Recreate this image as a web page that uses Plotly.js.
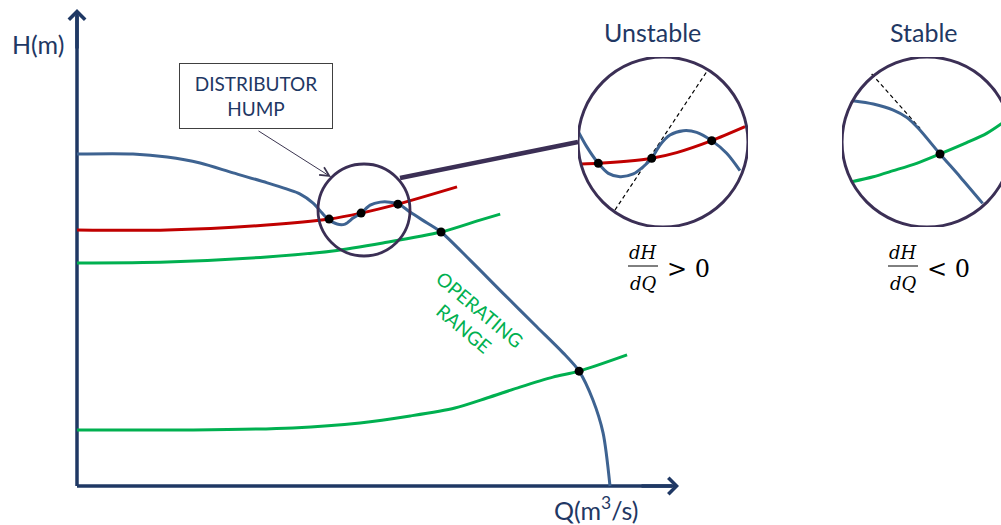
<!DOCTYPE html>
<html>
<head>
<meta charset="utf-8">
<script src="https://cdn.plot.ly/plotly-3.0.1.min.js"></script>
<style>
  html, body { margin: 0; padding: 0; background: #fff; }
  #chart { width: 1001px; height: 525px; }
</style>
</head>
<body>
<div id="chart"></div>
<script>
// main diagram, Q and H in arbitrary units (pump shut-off head = 10, runaway flow = 10)
const pumpQ = [0, 1.05, 1.69, 2.31, 2.93, 3.57, 4.18, 4.43, 4.60, 4.71, 4.88, 5.03, 5.18, 5.33, 5.50, 5.69, 5.87, 6.04, 6.25, 6.57, 6.83, 7.37, 7.99, 8.63, 9.12, 9.42, 9.68, 9.87, 10.0];
const pumpH = [10.0, 10.0, 9.91, 9.73, 9.43, 9.13, 8.80, 8.52, 8.22, 8.04, 7.89, 7.89, 8.07, 8.22, 8.46, 8.55, 8.55, 8.49, 8.25, 7.92, 7.65, 6.81, 5.81, 4.79, 4.01, 3.46, 2.59, 1.60, 0];
const systemQ = [0, 1.69, 3.56, 4.73, 5.33, 6.02, 7.13];
const systemH = [7.71, 7.71, 7.86, 8.04, 8.22, 8.49, 9.01];
const upperQ = [0, 1.69, 3.56, 4.80, 5.74, 6.83, 7.56, 7.94];
const upperH = [6.72, 6.75, 6.90, 7.08, 7.32, 7.65, 8.01, 8.19];
const lowerQ = [0, 2.18, 4.05, 5.31, 6.25, 7.09, 7.69, 8.31, 8.93, 9.42, 10.32];
const lowerH = [1.69, 1.69, 1.75, 1.90, 2.11, 2.35, 2.65, 2.98, 3.28, 3.46, 3.95];
const pointQ = [4.73, 5.33, 6.02, 6.83, 9.42];
const pointH = [8.04, 8.22, 8.49, 7.65, 3.46];

// "Unstable" close-up, local coordinates (circle radius = 1)
const unPumpX = [-0.996, -0.898, -0.761, -0.643, -0.506, -0.349, -0.231, -0.133, -0.035, 0.082, 0.239, 0.396, 0.573, 0.749, 0.906];
const unPumpY = [0.121, -0.055, -0.251, -0.369, -0.408, -0.376, -0.290, -0.192, -0.035, 0.082, 0.133, 0.114, 0.016, -0.133, -0.337];
const unSysX = [-0.957, -0.761, -0.427, -0.133, 0.161, 0.573, 0.965];
const unSysY = [-0.259, -0.251, -0.227, -0.192, -0.125, 0.016, 0.180];
const unTanX = [-0.565, 0.514];
const unTanY = [-0.800, 0.827];
const unPtX = [-0.761, -0.133, 0.573];
const unPtY = [-0.251, -0.192, 0.016];

// "Stable" close-up
const stPumpX = [-0.874, -0.631, -0.396, -0.239, -0.102, 0.153, 0.388, 0.655];
const stPumpY = [0.486, 0.447, 0.376, 0.290, 0.161, -0.141, -0.408, -0.722];
const stSysX = [-0.886, -0.631, -0.396, -0.122, 0.153, 0.467, 0.702, 0.871, 0.960];
const stSysY = [-0.467, -0.408, -0.337, -0.251, -0.141, -0.008, 0.102, 0.212, 0.280];
const stTanX = [-0.651, -0.082];
const stTanY = [0.800, 0.161];
const stPtX = [0.153];
const stPtY = [-0.141];

const W = 1001, Hgt = 525;
const navy = '#1F3864', steel = '#3E6391', red = '#C00000', green = '#00B050', ring = '#3B2F55';
const fx = p => p / W;          // page pixel -> paper
const fy = p => 1 - p / Hgt;
const q = p => (p - 77) / 53.3;  // page pixel -> Q
const h = p => (486 - p) / 33.2; // page pixel -> H

const line = (x, y, color, xa, ya) => ({
  x: x, y: y, xaxis: xa, yaxis: ya, type: 'scatter', mode: 'lines',
  line: {color: color, width: 3, shape: 'spline', smoothing: 0.8}, hoverinfo: 'skip'
});
const dots = (x, y, xa, ya) => ({
  x: x, y: y, xaxis: xa, yaxis: ya, type: 'scatter', mode: 'markers',
  marker: {color: '#000', size: 9}, hoverinfo: 'skip'
});
const dashed = (x, y, xa, ya) => ({
  x: x, y: y, xaxis: xa, yaxis: ya, type: 'scatter', mode: 'lines',
  line: {color: '#000', width: 1.2, dash: '4px,3px'}, hoverinfo: 'skip'
});

const data = [
  line(lowerQ, lowerH, green, 'x', 'y'),
  line(upperQ, upperH, green, 'x', 'y'),
  line(systemQ, systemH, red, 'x', 'y'),
  line(pumpQ, pumpH, steel, 'x', 'y'),
  dots(pointQ, pointH, 'x', 'y'),

  dashed(unTanX, unTanY, 'x2', 'y2'),
  line(unSysX, unSysY, red, 'x2', 'y2'),
  line(unPumpX, unPumpY, steel, 'x2', 'y2'),
  dots(unPtX, unPtY, 'x2', 'y2'),

  dashed(stTanX, stTanY, 'x3', 'y3'),
  line(stSysX, stSysY, green, 'x3', 'y3'),
  line(stPumpX, stPumpY, steel, 'x3', 'y3'),
  dots(stPtX, stPtY, 'x3', 'y3')
];

const hidden = {visible: false, fixedrange: true};
const txt = (text, px, py, size, color, family, extra) => Object.assign({
  text: text, x: fx(px), y: fy(py), xref: 'paper', yref: 'paper', showarrow: false,
  xanchor: 'center', yanchor: 'middle',
  font: {family: family || 'Lato, sans-serif', size: size, color: color || navy}
}, extra || {});
const head = (x, y, ax, ay) => ({
  text: '', x: x, y: y, ax: ax, ay: ay, xref: 'x', yref: 'y', axref: 'x', ayref: 'y',
  showarrow: true, arrowhead: 4, arrowsize: 0.9, arrowwidth: 3.5, arrowcolor: navy
});
const serif = 'DejaVu Serif, serif';

const layout = {
  width: W, height: Hgt,
  margin: {l: 0, r: 0, t: 0, b: 0},
  paper_bgcolor: '#fff', plot_bgcolor: 'rgba(0,0,0,0)',
  showlegend: false, hovermode: false, dragmode: false,
  xaxis: Object.assign({domain: [0, 1], range: [q(0), q(W)]}, hidden),
  yaxis: Object.assign({domain: [0, 1], range: [h(Hgt), h(0)]}, hidden),
  xaxis2: Object.assign({domain: [fx(578), fx(748)], range: [-1, 1], anchor: 'y2'}, hidden),
  yaxis2: Object.assign({domain: [fy(227), fy(57)], range: [-1, 1], anchor: 'x2'}, hidden),
  xaxis3: Object.assign({domain: [fx(842), 1], range: [-1, (W - 927) / 85], anchor: 'y3'}, hidden),
  yaxis3: Object.assign({domain: [fy(227), fy(57)], range: [-1, 1], anchor: 'x3'}, hidden),
  shapes: [
    // axes
    {type: 'line', xref: 'x', yref: 'y', x0: 0, y0: 0, x1: q(672), y1: 0, line: {color: navy, width: 3.5}, layer: 'below'},
    {type: 'line', xref: 'x', yref: 'y', x0: 0, y0: 0, x1: 0, y1: h(16), line: {color: navy, width: 3.5}, layer: 'below'},
    // hump ring and connector
    {type: 'circle', xref: 'x', yref: 'y', xsizemode: 'pixel', ysizemode: 'pixel',
     xanchor: q(364), yanchor: h(210), x0: -46, x1: 46, y0: -46, y1: 46,
     line: {color: ring, width: 2.8}, layer: 'above'},
    {type: 'line', xref: 'x', yref: 'y', x0: q(400), y0: h(178), x1: q(578), y1: h(142),
     line: {color: ring, width: 4.5}, layer: 'above'},
    // close-up rings
    {type: 'circle', xref: 'x2', yref: 'y2', x0: -1, x1: 1, y0: -1, y1: 1, line: {color: ring, width: 3}, layer: 'above'},
    {type: 'circle', xref: 'x3', yref: 'y3', x0: -1, x1: 1, y0: -1, y1: 1, line: {color: ring, width: 3}, layer: 'above'},
    // fraction bars
    {type: 'line', xref: 'paper', yref: 'paper', x0: fx(628), x1: fx(658), y0: fy(266), y1: fy(266), line: {color: '#000', width: 1}},
    {type: 'line', xref: 'paper', yref: 'paper', x0: fx(888), x1: fx(918), y0: fy(266), y1: fy(266), line: {color: '#000', width: 1}}
  ],
  annotations: [
    head(q(679), 0, q(640), 0),
    head(0, h(9), 0, h(50)),
    txt('H(m)', 38, 44, 25),
    txt('Q(m<sup>3</sup>/s)', 596, 508, 25),
    txt('DISTRIBUTOR<br>HUMP', 256, 96, 19, navy, null,
        {width: 152, height: 64, bordercolor: '#404040', borderwidth: 1, borderpad: 0, bgcolor: '#fff'}),
    {text: '', x: q(331), y: h(177), xref: 'x', yref: 'y', ax: -74, ay: -47,
     showarrow: true, arrowhead: 5, arrowsize: 1.8, arrowwidth: 1, arrowcolor: '#3B3550'},
    txt('OPERATING<br>RANGE', 472, 319, 19, green, null, {textangle: 40}),
    txt('Unstable', 652, 32, 25),
    txt('Stable', 924, 32, 25),
    txt('<i>dH</i>', 643, 252, 18, '#000', serif),
    txt('<i>dQ</i>', 643, 283, 18, '#000', serif),
    txt('&gt; 0', 688, 269, 24, '#000', serif),
    txt('<i>dH</i>', 903, 252, 18, '#000', serif),
    txt('<i>dQ</i>', 903, 283, 18, '#000', serif),
    txt('&lt; 0', 948, 269, 24, '#000', serif)
  ]
};

Plotly.newPlot(document.getElementById('chart'), data, layout, {staticPlot: true, displayModeBar: false});
</script>
</body>
</html>
